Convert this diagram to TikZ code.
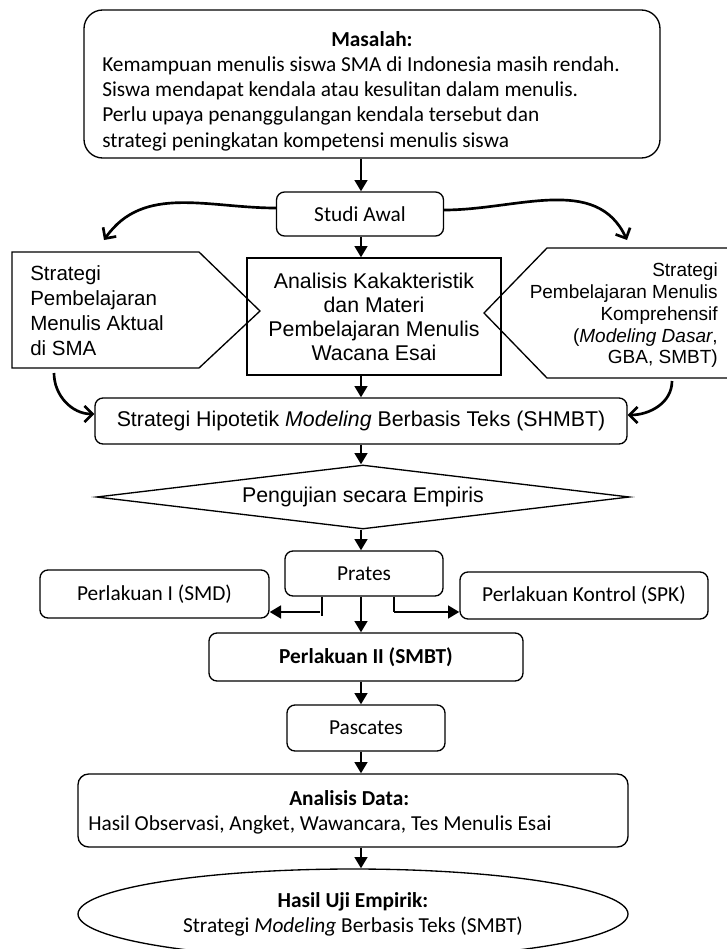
\documentclass[tikz,border=0pt]{standalone}
\usepackage{fontspec}
\setmainfont{Carlito}
\newfontfamily\arialfont{Liberation Sans}
\usetikzlibrary{arrows.meta,shapes.geometric,calc}

\tikzset{
  box/.style={draw, line width=1pt, rounded corners=6pt, inner sep=0pt, align=center, font=\fontsize{16}{18.75}\selectfont},
  flat/.style={draw, line width=1pt, inner sep=0pt, align=center, font=\arialfont\fontsize{16}{18}\selectfont},
  flow/.style={line width=2pt, -{Triangle[length=8.5pt,width=9.5pt]}},
  swing/.style={line width=2pt, -{Straight Barb[length=6pt,width=12pt]}},
  tick/.style={line width=0.9pt},
}

\begin{document}
\begin{tikzpicture}[x=0.75pt,y=-0.75pt]
\useasboundingbox (0,0) rectangle (726,949);
\coordinate (ax) at (361,0);

\node[box, rounded corners=14pt, minimum width=432pt, minimum height=111pt] (masalah) at (372,84) {};
\node[anchor=west, inner sep=0pt, font=\fontsize{16}{18.75}\selectfont] (masalahtxt) at (102,92) {\begin{tabular}{@{}l@{}}\hspace*{171.75pt}\textbf{Masalah:}\\ Kemampuan menulis siswa SMA di Indonesia masih rendah.\\ Siswa mendapat kendala atau kesulitan dalam menulis.\\ Perlu upaya penanggulangan kendala tersebut dan\\ strategi peningkatan kompetensi menulis siswa\end{tabular}};

\node[box, minimum width=125.25pt, minimum height=33pt] (studi) at (360,214) {Studi Awal};
\node[flat, minimum width=190.5pt, minimum height=87.75pt] (analisis) at (374,316.5) {Analisis Kakakteristik\\dan Materi\\Pembelajaran Menulis\\Wacana Esai};

\draw[line width=1pt] (12,252) -- (199,252) -- (260,311) -- (199,368) -- (12,368) -- cycle;
\node[anchor=west, align=left, inner sep=0pt, font=\arialfont\fontsize{15.4}{18.75}\selectfont] (aktual) at (30,311) {Strategi\\Pembelajaran\\Menulis Aktual\\di SMA};
\draw[line width=1pt] (728,248) -- (547,248) -- (484,313) -- (547,378) -- (728,378);
\node[anchor=east, align=right, inner sep=0pt, font=\arialfont\fontsize{14.25}{16.3}\selectfont] (kompre) at (718,315.5) {Strategi\\Pembelajaran Menulis\\Komprehensif\\(\textit{Modeling Dasar},\\GBA, SMBT)};

\node[box, font=\arialfont\fontsize{16}{18}\selectfont, minimum width=399pt, minimum height=34.5pt] (shmbt) at (361,421) {Strategi Hipotetik \textit{Modeling} Berbasis Teks (SHMBT)};
\node[diamond, draw, line width=1pt, aspect=8.3, inner sep=0pt, minimum width=399.75pt, minimum height=48pt, font=\arialfont\fontsize{16}{18}\selectfont] (uji) at (363,497) {Pengujian secara Empiris};

\node[box, minimum width=118.5pt, minimum height=33.75pt] (prates) at (364,573.5) {Prates};
\node[box, minimum width=171.75pt, minimum height=36pt] (perl1) at (154.5,594) {Perlakuan I (SMD)};
\node[box, minimum width=186pt, minimum height=35.25pt] (perlk) at (584,595.5) {Perlakuan Kontrol (SPK)};
\node[box, minimum width=235.5pt, minimum height=36pt] (perl2) at (366,657) {\textbf{Perlakuan II (SMBT)}};
\node[box, minimum width=118.5pt, minimum height=34.5pt] (pascates) at (366,728) {Pascates};
\node[box, rounded corners=8pt, minimum width=412.5pt, minimum height=54.75pt] (adata) at (353,810.5) {};
\node[anchor=west, inner sep=0pt, font=\fontsize{16}{18.75}\selectfont] (adatatxt) at (88,813) {\begin{tabular}{@{}l@{}}\hspace*{150.75pt}\textbf{Analisis Data:}\\ Hasil Observasi, Angket, Wawancara, Tes Menulis Esai\end{tabular}};
\node[ellipse, draw, line width=1pt, inner sep=0pt, minimum width=412.5pt, minimum height=67.5pt, align=center, font=\fontsize{16}{18.75}\selectfont] (hasil) at (353,914) {\textbf{Hasil Uji Empirik:}\\Strategi \textit{Modeling} Berbasis Teks (SMBT)};

\draw[flow] (ax |- masalah.south) -- (ax |- studi.north);
\draw[flow] (ax |- studi.south) -- (ax |- analisis.north);
\draw[flow] (ax |- analisis.south) -- (ax |- shmbt.north);
\draw[flow] (ax |- shmbt.south) -- (ax |- uji.north);
\draw[flow] (ax |- uji.south) -- (ax |- prates.north);
\draw[flow] (ax |- prates.south) -- (ax |- perl2.north);
\draw[flow] (ax |- perl2.south) -- (ax |- pascates.north);
\draw[flow] (ax |- pascates.south) -- (ax |- adata.north);
\draw[flow] (ax |- adata.south) -- (ax |- hasil.north);

\coordinate (lhead) at (104,240);
\coordinate (rhead) at (627,240);
\draw[swing] ($(studi.west)+(0,-6)$) to[out=180,in=55] (lhead);
\draw[swing] ($(studi.east)+(0,-4)$) to[out=0,in=115] (rhead);
\coordinate (aktualb) at (54,373);
\coordinate (kompreb) at (672,381);
\draw[swing] (aktualb) to[out=-90,in=180] ($(shmbt.west)+(0,-7)$);
\draw[swing] (kompreb) to[out=-90,in=0] ($(shmbt.east)+(0,-6)$);

\coordinate (pl) at (322,612);
\coordinate (pr) at (394,612);
\draw[tick] (pl |- prates.south) -- ($(pl)+(0,4)$);
\draw[flow] ($(pl)+(-2,0)$) -- (pl -| perl1.east);
\draw[tick] (pr |- prates.south) -- (pr);
\draw[flow] (pr) -- (pr -| perlk.west);
\end{tikzpicture}
\end{document}
